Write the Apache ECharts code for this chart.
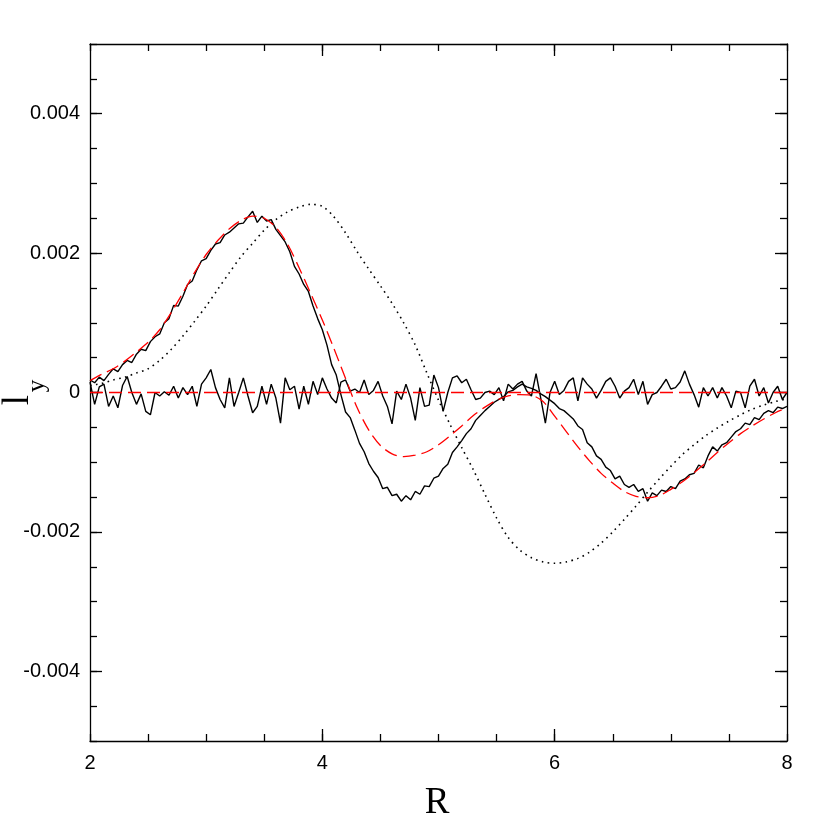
<!DOCTYPE html>
<html>
<head>
<meta charset="utf-8">
<script src="https://cdn.jsdelivr.net/npm/echarts@6.0.0/dist/echarts.min.js"></script>
<style>
  html, body { margin: 0; padding: 0; background: #fff; }
  #chart { width: 830px; height: 830px; }
</style>
</head>
<body>
<div id="chart"></div>
<script>
// all y values are in units of 1e-4 (the axis labels show the real value)

// fine R grid used by the two noisy curves
const rFine = [
  2.00, 2.04, 2.08, 2.12, 2.16, 2.20, 2.24, 2.28, 2.32, 2.36, 2.40, 2.44, 2.48, 2.52, 2.56, 2.60, 2.64, 2.68, 2.72, 2.76, 2.80, 2.84, 2.88, 2.92, 2.96,
  3.00, 3.04, 3.08, 3.12, 3.16, 3.20, 3.24, 3.28, 3.32, 3.36, 3.40, 3.44, 3.48, 3.52, 3.56, 3.60, 3.64, 3.68, 3.72, 3.76, 3.80, 3.84, 3.88, 3.92, 3.96,
  4.00, 4.04, 4.08, 4.12, 4.16, 4.20, 4.24, 4.28, 4.32, 4.36, 4.40, 4.44, 4.48, 4.52, 4.56, 4.60, 4.64, 4.68, 4.72, 4.76, 4.80, 4.84, 4.88, 4.92, 4.96,
  5.00, 5.04, 5.08, 5.12, 5.16, 5.20, 5.24, 5.28, 5.32, 5.36, 5.40, 5.44, 5.48, 5.52, 5.56, 5.60, 5.64, 5.68, 5.72, 5.76, 5.80, 5.84, 5.88, 5.92, 5.96,
  6.00, 6.04, 6.08, 6.12, 6.16, 6.20, 6.24, 6.28, 6.32, 6.36, 6.40, 6.44, 6.48, 6.52, 6.56, 6.60, 6.64, 6.68, 6.72, 6.76, 6.80, 6.84, 6.88, 6.92, 6.96,
  7.00, 7.04, 7.08, 7.12, 7.16, 7.20, 7.24, 7.28, 7.32, 7.36, 7.40, 7.44, 7.48, 7.52, 7.56, 7.60, 7.64, 7.68, 7.72, 7.76, 7.80, 7.84, 7.88, 7.92, 7.96,
  8.00
]

// noisy measured signal (solid)
const signal = [
  1.8, 1.4, 2.2, 1.7, 2.6, 3.4, 3.0, 4.0, 4.6, 4.3, 5.5, 6.2, 6.0, 7.3, 8.0, 8.4, 10.0, 10.6, 12.5, 12.4, 13.8, 15.5, 16.0, 17.6, 18.9,
  19.2, 20.4, 21.3, 21.5, 22.6, 23.0, 23.6, 24.2, 24.3, 25.2, 26.0, 24.4, 25.3, 24.6, 24.8, 23.4, 22.5, 21.6, 20.2, 18.1, 17.0, 15.5, 14.5, 12.4, 10.6,
  9.0, 6.8, 4.0, 2.5, -0.3, -2.8, -3.6, -5.4, -7.3, -8.5, -10.2, -11.3, -12.2, -13.8, -13.6, -14.8, -14.6, -15.6, -14.8, -15.4, -14.2, -14.6, -13.4, -13.5, -12.3,
  -12.0, -10.9, -10.3, -8.6, -7.8, -6.9, -5.9, -5.2, -4.0, -3.3, -2.6, -2.0, -1.4, -1.0, -0.6, 0.1, 0.3, 0.8, 1.2, 0.8, 0.6, 0.3, -0.2, -0.6, -1.1,
  -1.6, -2.3, -2.6, -3.2, -3.8, -4.8, -5.3, -7.2, -7.8, -9.1, -9.6, -10.7, -11.2, -12.4, -12.0, -13.2, -13.6, -13.2, -14.2, -13.8, -15.6, -14.4, -14.8, -14.0, -14.2,
  -13.5, -13.8, -12.7, -12.4, -11.8, -11.6, -10.4, -10.8, -9.1, -7.8, -8.4, -7.5, -7.2, -6.4, -5.6, -5.2, -4.4, -4.6, -3.6, -3.9, -3.0, -2.6, -2.9, -2.1, -2.3,
  -2.0
]

// pure noise around zero (solid)
const noise = [
  1.5, -1.7, 0.8, 1.2, -2.0, -0.5, -2.2, 1.0, 2.3, 0.0, -1.7, -0.2, -2.7, -3.2, 0.0, -0.5, 0.1, -0.4, 0.9, -0.8, 0.7, -0.3, 0.9, -2.0, 1.2,
  2.1, 3.3, 0.7, -1.0, -2.2, 2.1, -2.0, 0.0, 2.1, -0.5, -2.9, -2.0, 0.9, -1.7, 1.2, -0.8, -4.4, 2.1, 0.4, 0.9, -2.4, 0.9, -1.7, 1.6, -0.3,
  2.1, 0.5, -0.8, -1.5, 1.5, 1.8, 0.2, 0.5, 0.0, 1.8, -0.3, 0.3, 1.6, -0.5, -2.0, -4.5, 0.2, -1.0, 1.2, -0.8, -4.0, 0.7, -2.0, -1.8, 2.5,
  0.7, -2.7, 0.0, 2.1, 2.4, 1.4, 1.9, 0.4, -1.0, -0.8, 0.0, 0.2, -0.3, 0.7, -1.2, 1.2, 0.5, 1.2, 1.6, 0.2, -0.5, 2.7, -0.8, -4.4, 0.0,
  1.6, -0.3, 0.3, 1.6, 2.1, -1.2, 2.1, 1.2, 0.5, -0.8, 0.3, 1.6, 2.1, 0.9, -0.8, 0.2, 0.7, 1.9, -0.3, 1.6, -1.7, -0.3, 0.0, 0.9, 1.9,
  0.5, 0.7, 1.5, 3.1, 1.2, -0.3, -2.1, 0.7, -0.5, 0.7, -0.8, 0.7, -0.5, -2.2, 0.2, 0.0, -2.2, 0.9, 1.9, -0.5, 0.7, -1.5, 0.0, 0.9, -1.0,
  0.0
]

// coarse R grid for the smooth curves
const rCoarse = [
  2.0, 2.1, 2.2, 2.3, 2.4, 2.5, 2.6, 2.7, 2.8, 2.9,
  3.0, 3.1, 3.2, 3.3, 3.4, 3.5, 3.6, 3.7, 3.8, 3.9,
  4.0, 4.1, 4.2, 4.3, 4.4, 4.5, 4.6, 4.7, 4.8, 4.9,
  5.0, 5.1, 5.2, 5.3, 5.4, 5.5, 5.6, 5.7, 5.8, 5.9,
  6.0, 6.1, 6.2, 6.3, 6.4, 6.5, 6.6, 6.7, 6.8, 6.9,
  7.0, 7.1, 7.2, 7.3, 7.4, 7.5, 7.6, 7.7, 7.8, 7.9,
  8.0
]

// fitted model (red dashed)
const model = [
  1.7, 2.6, 3.4, 4.5, 5.8, 7.2, 9.0, 11.5, 14.3, 17.2,
  19.8, 21.8, 23.5, 24.7, 25.3, 25.0, 23.7, 21.3, 17.9, 14.2,
  10.4, 6.3, 2.0, -2.2, -5.4, -7.6, -8.8, -9.2, -9.0, -8.5,
  -7.5, -6.2, -4.8, -3.3, -2.1, -1.1, -0.5, -0.3, -0.4, -1.3,
  -3.4, -5.6, -7.8, -9.8, -11.6, -13.0, -14.2, -14.9, -15.1, -14.8,
  -13.9, -12.8, -11.5, -10.1, -8.6, -7.2, -5.9, -4.8, -3.8, -2.9,
  -2.2
]

// reference curve (black dotted)
const reference = [
  1.0, 1.3, 1.8, 2.2, 2.8, 3.4, 4.6, 6.2, 8.1, 10.2,
  12.4, 14.8, 17.2, 19.5, 21.4, 23.3, 24.8, 25.9, 26.6, 27.0,
  26.7, 25.2, 22.9, 20.2, 17.7, 15.3, 12.8, 10.0, 6.8, 2.8,
  -1.1, -4.6, -7.9, -11.1, -14.6, -18.0, -20.8, -22.6, -23.7, -24.3,
  -24.5, -24.3, -23.8, -22.9, -21.6, -20.0, -18.2, -16.3, -14.3, -12.4,
  -10.6, -8.9, -7.5, -6.2, -5.1, -4.1, -3.2, -2.4, -1.8, -1.3,
  -0.9
]

// zero model (red dashed flat line)
const zeroR = [2, 8]
const zeroModel = [0, 0]

const xTickValues = [2, 4, 6, 8]
const xMajorTicks = [4, 6]
const yTickValues = [-40, -20, 0, 20, 40]
const yTickText = ['-0.004', '-0.002', '0', '0.002', '0.004']

const pairs = (xs, ys) => xs.map((x, i) => [x, ys[i]])

const chart = echarts.init(document.getElementById('chart'), null, { renderer: 'canvas' })

const lineStyleAxis = { color: '#000', width: 1.3 }
const labelFont = { color: '#000', fontSize: 20, fontFamily: 'Liberation Sans, Arial, sans-serif' }

function minorAxis(pos, isX) {
  return {
    type: 'value',
    position: pos,
    min: isX ? 2 : -50,
    max: isX ? 8 : 50,
    interval: isX ? 0.5 : 5,
    axisLine: { show: true, onZero: false, lineStyle: lineStyleAxis },
    axisTick: { show: true, inside: true, length: 7, lineStyle: lineStyleAxis },
    axisLabel: { show: false },
    splitLine: { show: false }
  }
}
function majorAxis(pos, isX) {
  return {
    type: 'value',
    position: pos,
    min: isX ? 2 : -50,
    max: isX ? 8 : 50,
    axisLine: { show: false, onZero: false },
    axisTick: { show: true, inside: true, length: 12, lineStyle: lineStyleAxis,
      customValues: isX ? xMajorTicks : yTickValues },
    axisLabel: { show: false },
    splitLine: { show: false }
  }
}

const xMain = minorAxis('bottom', true)
xMain.axisLabel = Object.assign({
  show: true, margin: 12, customValues: xTickValues,
  formatter: v => String(v)
}, labelFont)

const yMain = minorAxis('left', false)
yMain.axisLabel = Object.assign({
  show: true, margin: 10, customValues: yTickValues,
  formatter: v => yTickText[yTickValues.indexOf(v)]
}, labelFont)

chart.setOption({
  animation: false,
  backgroundColor: '#fff',
  grid: { left: 90, right: 43, top: 44, bottom: 89, containLabel: false },
  xAxis: [xMain, majorAxis('bottom', true), minorAxis('top', true), majorAxis('top', true)],
  yAxis: [yMain, majorAxis('left', false), minorAxis('right', false), majorAxis('right', false)],
  graphic: [
    {
      type: 'text', x: 437, y: 803,
      style: { text: 'R', font: '37px "Liberation Serif", serif', fill: '#000', align: 'center', verticalAlign: 'middle' }
    },
    {
      type: 'text', x: 18, y: 400, rotation: Math.PI / 2,
      style: { text: 'l', font: '37px "Liberation Serif", serif', fill: '#000', align: 'center', verticalAlign: 'middle' }
    },
    {
      type: 'text', x: 37, y: 386, rotation: Math.PI / 2,
      style: { text: 'y', font: '25px "Liberation Serif", serif', fill: '#000', align: 'center', verticalAlign: 'middle' }
    }
  ],
  series: [
    {
      name: 'reference', type: 'line', data: pairs(rCoarse, reference),
      smooth: 0.3, showSymbol: false, symbol: 'none',
      lineStyle: { color: '#000', width: 1.6, type: [1.6, 4.4] }
    },
    {
      name: 'noise', type: 'line', data: pairs(rFine, noise),
      showSymbol: false, symbol: 'none',
      lineStyle: { color: '#000', width: 1.4 }
    },
    {
      name: 'signal', type: 'line', data: pairs(rFine, signal),
      showSymbol: false, symbol: 'none',
      lineStyle: { color: '#000', width: 1.4 }
    },
    {
      name: 'zero model', type: 'line', data: pairs(zeroR, zeroModel),
      showSymbol: false, symbol: 'none',
      lineStyle: { color: '#ff0000', width: 1.3, type: [13, 6] }
    },
    {
      name: 'model', type: 'line', data: pairs(rCoarse, model),
      smooth: 0.3, showSymbol: false, symbol: 'none',
      lineStyle: { color: '#ff0000', width: 1.3, type: [13, 6] }
    }
  ]
})
</script>
</body>
</html>
